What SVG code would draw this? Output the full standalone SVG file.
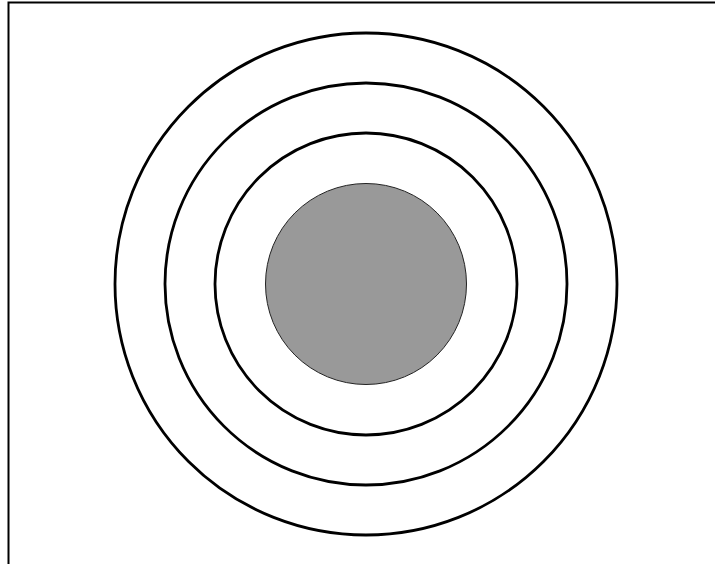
<svg xmlns="http://www.w3.org/2000/svg" width="715" height="564" viewBox="0 0 715 564">
<style>
.ring{fill:none;stroke:#000;stroke-width:2.8}
.frame{fill:none;stroke:#000;stroke-width:2}
</style>
<rect width="715" height="564" fill="#fff"/>
<path class="frame" d="M8.5,564 V2.5 H715"/>
<g id="ring3"><circle class="ring" cx="366" cy="284" r="251"/></g>
<g id="ring2"><circle class="ring" cx="366" cy="284" r="201"/></g>
<g id="ring1"><circle class="ring" cx="366" cy="284" r="151"/></g>
<g id="core"><circle cx="366" cy="284" r="100.5" fill="#999999" stroke="#222" stroke-width="1"/></g>
</svg>
